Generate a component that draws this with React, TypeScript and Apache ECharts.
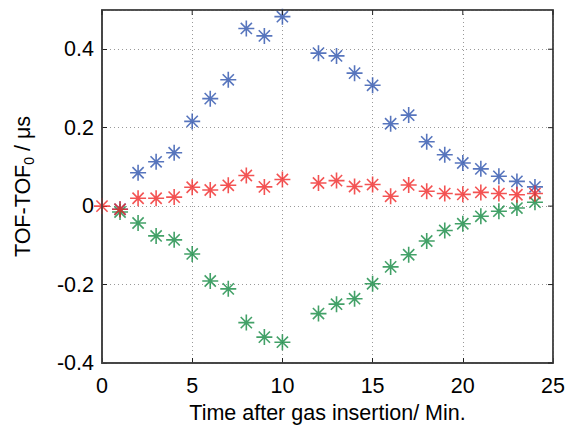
import React, { useEffect, useRef } from "react";
import * as echarts from "echarts";

const timesBG = [1, 2, 3, 4, 5, 6, 7, 8, 9, 10, 12, 13, 14, 15, 16, 17, 18, 19, 20, 21, 22, 23, 24];
const timesRed = [0, 1, 2, 3, 4, 5, 6, 7, 8, 9, 10, 12, 13, 14, 15, 16, 17, 18, 19, 20, 21, 22, 23, 24];

const blueValues = [-0.008, 0.085, 0.113, 0.136, 0.216, 0.274, 0.322, 0.453, 0.434, 0.483, 0.39, 0.383, 0.339, 0.308, 0.21, 0.232, 0.164, 0.131, 0.11, 0.095, 0.076, 0.063, 0.049];
const redValues = [0, -0.008, 0.02, 0.02, 0.023, 0.048, 0.041, 0.053, 0.078, 0.049, 0.068, 0.059, 0.065, 0.05, 0.055, 0.025, 0.054, 0.038, 0.032, 0.03, 0.035, 0.032, 0.029, 0.032];
const greenValues = [-0.015, -0.043, -0.076, -0.086, -0.122, -0.191, -0.211, -0.297, -0.334, -0.347, -0.274, -0.25, -0.236, -0.198, -0.155, -0.124, -0.089, -0.062, -0.045, -0.026, -0.013, -0.005, 0.01];

const xTicks = [0, 5, 10, 15, 20, 25];
const yTicks = [-0.4, -0.2, 0, 0.2, 0.4];
const yTickLabels = ["-0.4", "-0.2", "0", "0.2", "0.4"];
const yMax = 0.5;

const star =
  "path://M45,0 L55,0 L55,100 L45,100 Z M0,45 L100,45 L100,55 L0,55 Z " +
  "M18.5,11.5 L88.5,81.5 L81.5,88.5 L11.5,18.5 Z M81.5,11.5 L88.5,18.5 L18.5,88.5 L11.5,81.5 Z";

const FONT = "'Liberation Sans', Arial, sans-serif";
const FS = 21.5;

export default function App() {
  const ref = useRef<HTMLDivElement>(null);
  useEffect(() => {
    if (!ref.current) return;
    const chart = echarts.init(ref.current, undefined, { renderer: "svg" });
    const mk = (times: number[], vals: number[], color: string, name: string) => ({
      name,
      type: "scatter",
      symbol: star,
      symbolSize: 16,
      itemStyle: { color },
      data: times.map((t, i) => [t, vals[i]]),
      z: 3,
    });
    const tickStyle = { lineStyle: { color: "#222", width: 1 } };
    chart.setOption({
      animation: false,
      grid: { left: 102, right: 21, top: 10, bottom: 65, show: true, borderColor: "#444", borderWidth: 1.5 },
      xAxis: {
        type: "value",
        min: xTicks[0],
        max: xTicks[xTicks.length - 1],
        interval: 5,
        name: "Time after gas insertion/ Min.",
        nameLocation: "middle",
        nameGap: 39,
        nameTextStyle: { fontFamily: FONT, fontSize: FS, color: "#000" },
        axisLine: { show: true, onZero: false, lineStyle: { color: "#444", width: 1.5 } },
        axisTick: { show: true, inside: true, length: 5, ...tickStyle },
        axisLabel: { fontFamily: FONT, fontSize: FS, color: "#000", margin: 12 },
        splitLine: { show: true, lineStyle: { type: [1, 3], color: "#999", width: 1 } },
      },
      yAxis: {
        type: "value",
        min: yTicks[0],
        max: yMax,
        interval: 0.2,
        name: "{a|TOF-TOF}{s|0}{a| / μs}",
        nameLocation: "middle",
        nameGap: 66,
        nameRotate: 90,
        nameTextStyle: {
          fontFamily: FONT,
          color: "#000",
          rich: {
            a: { fontFamily: FONT, fontSize: FS, color: "#000" },
            s: { fontFamily: FONT, fontSize: 14, color: "#000", padding: [12, 0, 0, 0] },
          },
        },
        axisLine: { show: true, onZero: false, lineStyle: { color: "#444", width: 1.5 } },
        axisTick: { show: true, inside: true, length: 5, ...tickStyle },
        axisLabel: {
          fontFamily: FONT,
          fontSize: FS,
          color: "#000",
          margin: 8,
          showMaxLabel: false,
          formatter: (v: number) => {
            const idx = yTicks.findIndex((t) => Math.abs(t - v) < 1e-6);
            return idx >= 0 ? yTickLabels[idx] : "";
          },
        },
        splitLine: { show: true, lineStyle: { type: [1, 3], color: "#999", width: 1 } },
      },
      series: [
        mk(timesBG, blueValues, "#2d52ad", "blue"),
        mk(timesBG, greenValues, "#148a42", "green"),
        mk(timesRed, redValues, "#f02828", "red"),
      ],
    });

    // frame on top/right plus mirrored inside ticks, placed through the axes' own scales
    const px = (x: number, y: number) => chart.convertToPixel({ gridIndex: 0 }, [x, y]) as number[];
    const bl = px(xTicks[0], yTicks[0]);
    const tr = px(xTicks[xTicks.length - 1], yMax);
    const graphics: any[] = [
      {
        type: "rect",
        silent: true,
        z: 10,
        shape: { x: bl[0], y: tr[1], width: tr[0] - bl[0], height: bl[1] - tr[1] },
        style: { fill: "none", stroke: "#444", lineWidth: 1.5 },
      },
    ];
    xTicks.forEach((t) => {
      const p = px(t, yMax);
      graphics.push({
        type: "rect",
        silent: true,
        z: 10,
        shape: { x: p[0] - 0.5, y: p[1], width: 1, height: 5 },
        style: { fill: "#222" },
      });
    });
    yTicks.forEach((t) => {
      const p = px(xTicks[xTicks.length - 1], t);
      graphics.push({
        type: "rect",
        silent: true,
        z: 10,
        shape: { x: p[0] - 5, y: p[1] - 0.5, width: 5, height: 1 },
        style: { fill: "#222" },
      });
    });
    chart.setOption({ graphic: graphics });
    return () => chart.dispose();
  }, []);
  return <div ref={ref} style={{ width: 574, height: 429, position: "absolute", left: 0, top: 0, background: "#fff" }} />;
}
